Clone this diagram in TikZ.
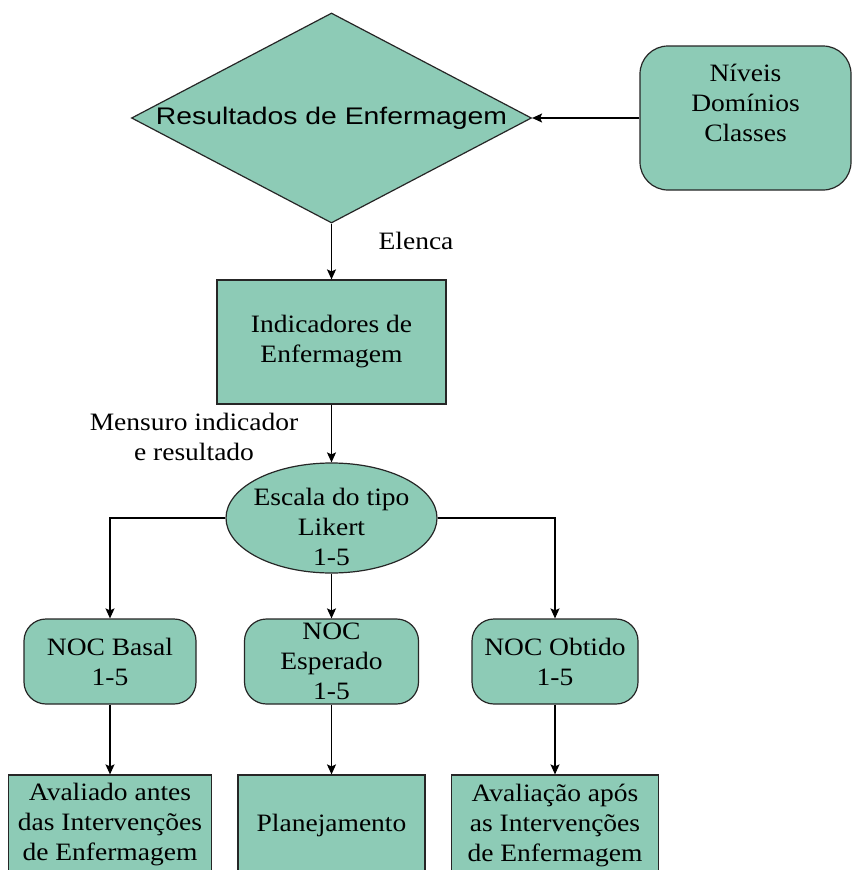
\documentclass[tikz,border=0pt]{standalone}
\usepackage{fontspec}
\setmainfont{Liberation Serif}[FakeStretch=1.1]
\newfontfamily\diasans{Liberation Sans}[FakeStretch=1.18]
\usetikzlibrary{arrows.meta, shapes.geometric}
\definecolor{nocgreen}{RGB}{141,203,182}

\begin{document}
\begin{tikzpicture}[x=1pt,y=-1pt,
    box/.style={draw=black!85, fill=nocgreen, line width=1.2pt, align=center, inner sep=0pt, font=\fontsize{25}{30}\selectfont},
    flow/.style={-{Stealth[length=10pt,width=9pt,inset=2pt]}, line width=1.2pt},
    lbl/.style={align=center, font=\fontsize{25}{30}\selectfont}]
    \fill[white] (0,0) rectangle (852,870);
    \useasboundingbox (0,0) rectangle (852,870);
    % top row
    \node[box, shape=diamond, aspect=2, minimum width=400pt, minimum height=210pt, font=\diasans\fontsize{24}{28}\selectfont] (res) at (331.5,118) {Resultados de Enfermagem};
    \node[box, rounded corners=28pt, minimum width=211pt, minimum height=144pt] (niv) at (745.5,118) {Níveis\\Domínios\\Classes\\\mbox{}};
    \draw[flow] (niv.west) -- (res.east);
    % middle
    \node[box, minimum width=229pt, minimum height=124pt] (ind) at (331.5,342) {Indicadores de\\Enfermagem};
    \draw[flow] (res.south) -- (ind.north);
    \node[lbl] (elenca) at (416,241) {Elenca};
    \node[box, ellipse, inner xsep=-10pt, inner ysep=-10pt, minimum width=211pt, minimum height=110pt] (esc) at (331.5,518) {\rule{0pt}{35pt}Escala do tipo\\Likert\\1-5};
    \draw[flow] (ind.south) -- (esc.north);
    \node[lbl] (mensuro) at (194,437) {Mensuro indicador\\e resultado};
    % NOC row
    \node[box, rounded corners=22pt, minimum width=172pt, minimum height=85pt] (basal) at (110,661.5) {NOC Basal\\1-5};
    \node[box, rounded corners=22pt, minimum width=174pt, minimum height=85pt] (esp) at (331.5,661.5) {NOC\\Esperado\\1-5};
    \node[box, rounded corners=22pt, minimum width=166pt, minimum height=85pt] (obt) at (555,661.5) {NOC Obtido\\1-5};
    \draw[flow] (esc.west) -| (basal.north);
    \draw[flow] (esc.south) -- (esp.north);
    \draw[flow] (esc.east) -| (obt.north);
    % bottom row
    \node[box, minimum width=203pt, minimum height=100pt] (aval) at (110,825) {Avaliado antes\\das Intervenções\\de Enfermagem};
    \node[box, minimum width=187pt, minimum height=100pt] (plan) at (331.5,825) {Planejamento};
    \node[box, minimum width=207pt, minimum height=100pt] (apos) at (555,825) {Avaliação após\\as Intervenções\\de Enfermagem};
    \draw[flow] (basal.south) -- (aval.north);
    \draw[flow] (esp.south) -- (plan.north);
    \draw[flow] (obt.south) -- (apos.north);
\end{tikzpicture}
\end{document}
